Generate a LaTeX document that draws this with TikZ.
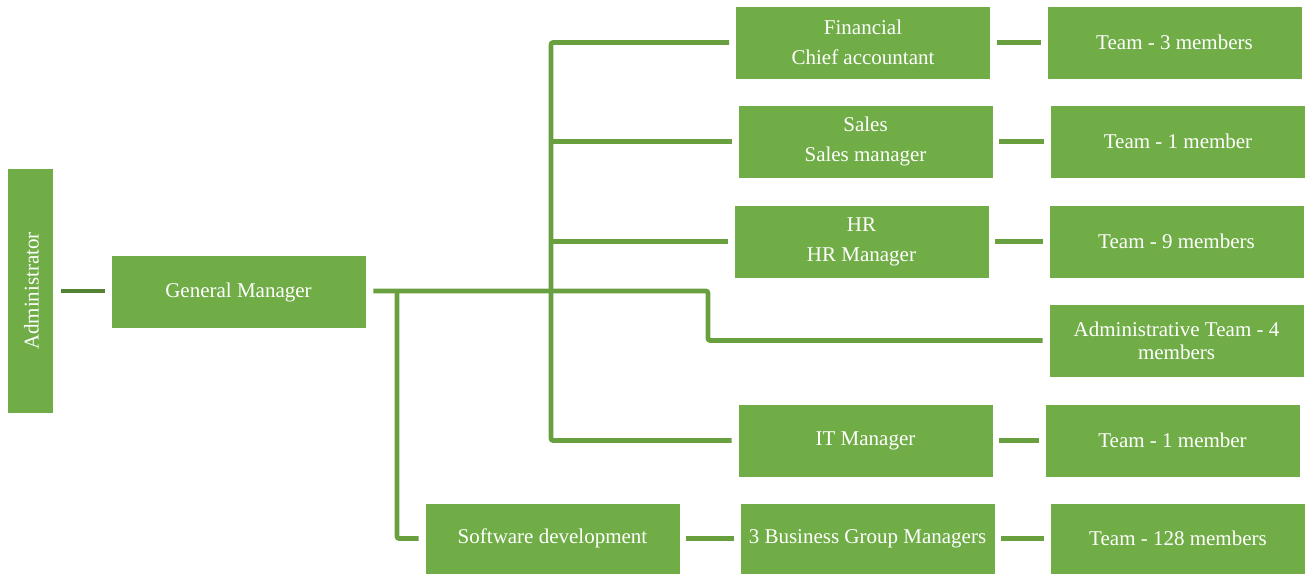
\documentclass[tikz,border=0pt]{standalone}
\usepackage{fontspec}
\setmainfont{Liberation Serif}
\definecolor{boxgreen}{HTML}{70AD47}
\definecolor{linegreen}{HTML}{68A040}
\definecolor{darkline}{HTML}{548235}
\begin{document}
\begin{tikzpicture}[x=1pt,y=-1pt,
  box/.style={fill=boxgreen, draw=white, line width=0.8pt, text=white, minimum width=255pt, minimum height=73pt, inner sep=0pt, align=center, font=\fontsize{21}{30}\selectfont},
  conn/.style={draw=linegreen, line width=4.6pt},
  lft/.style={shorten >=6pt},
]
\useasboundingbox (0,0) rectangle (1306,575);
% nodes
\node[box, minimum width=46pt, minimum height=245pt] (admin) at (30.5,291) {};
\node[text=white, rotate=90, font=\fontsize{21}{24}\selectfont] (admint) at ([xshift=1pt]admin.center) {Administrator};
\node[box] (gm) at (238.5,292) {General Manager};
\node[box] (fin) at (863,42.5) {Financial\\Chief accountant};
\node[box] (t3) at (1174.5,42.5) {Team - 3 members};
\node[box] (sales) at (865.5,141.5) {Sales\\Sales manager};
\node[box] (t1a) at (1178,141.5) {Team - 1 member};
\node[box] (hr) at (861.5,241.5) {HR\\HR Manager};
\node[box] (t9) at (1176.5,241.5) {Team - 9 members};
\node[box, font=\fontsize{21}{23}\selectfont] (adm) at (1176.5,340.5) {Administrative Team - 4\\members};
\node[box] (it) at (865.5,440.5) {IT Manager};
\node[box] (t1b) at (1172.5,440.5) {Team - 1 member};
\node[box, minimum height=71pt] (sw) at (552.5,538.5) {Software development};
\node[box, minimum height=71pt] (bgm) at (867.5,538.5) {3 Business Group Managers};
\node[box, minimum height=71pt] (t128) at (1178,538.5) {Team - 128 members};
% coordinates
\coordinate (tT) at (551,42.5);
\coordinate (tB) at (551,440.5);
\coordinate (k1) at (708,340.5);
\coordinate (sx) at (397,291);
% connectors
\draw[conn, draw=darkline, shorten <=7pt, shorten >=6pt] (admin.east) -- (gm.west |- admin.east);
\draw[conn, rounded corners=2pt] ([xshift=7pt]gm.east |- sx) -| (k1) -- ([xshift=-6pt]adm.west);
\draw[conn, rounded corners=2pt] ([xshift=-6pt]fin.west) -- (tT) -- (tB) -- ([xshift=-6pt]it.west);
\draw[conn, lft] (tT |- sales.west) -- (sales.west);
\draw[conn, lft] (tT |- hr.west) -- (hr.west);
\draw[conn, rounded corners=2pt] (sx) |- ([xshift=-6pt]sw.west);
\draw[conn, shorten <=6pt, shorten >=6pt] (fin.east) -- (t3.west);
\draw[conn, shorten <=6pt, shorten >=6pt] (sales.east) -- (t1a.west);
\draw[conn, shorten <=6pt, shorten >=6pt] (hr.east) -- (t9.west);
\draw[conn, shorten <=6pt, shorten >=6pt] (it.east) -- (t1b.west);
\draw[conn, shorten <=6pt, shorten >=6pt] (sw.east) -- (bgm.west);
\draw[conn, shorten <=6pt, shorten >=6pt] (bgm.east) -- (t128.west);
\end{tikzpicture}
\end{document}
